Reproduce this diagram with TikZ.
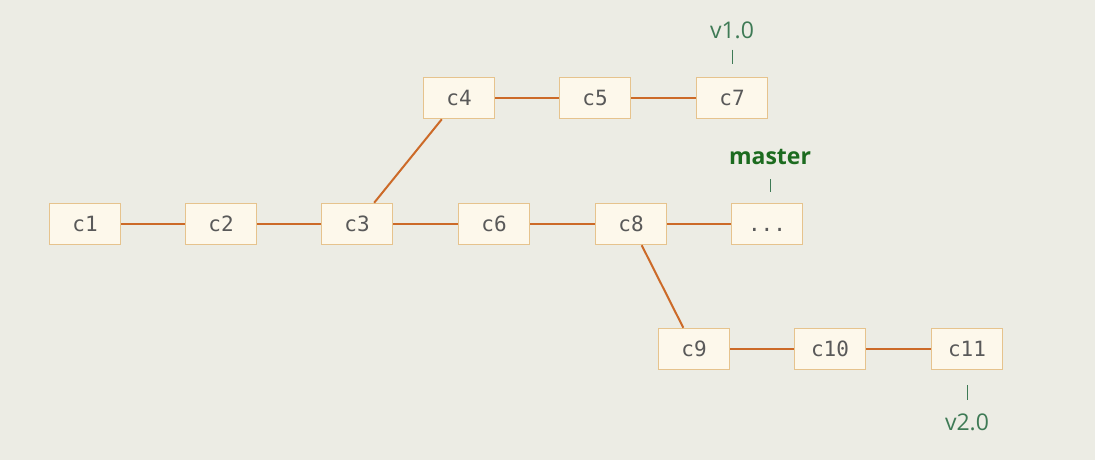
\documentclass[tikz,border=0pt]{standalone}
\usepackage{fontspec}
\setmainfont{Open Sans}
\setmonofont{DejaVu Sans Mono}
\usepackage{tikz}

\definecolor{bgcol}{HTML}{ECECE4}
\definecolor{boxfill}{HTML}{FDF8EB}
\definecolor{boxline}{HTML}{E6C38D}
\definecolor{edgecol}{HTML}{CC6A28}
\definecolor{txtcol}{HTML}{595959}
\definecolor{tagcol}{HTML}{3E7A55}
\definecolor{headcol}{HTML}{1C6B1F}

\begin{document}
\begin{tikzpicture}[x=1pt,y=1pt,
    commit/.style={draw=boxline,line width=1.5pt,fill=boxfill,minimum width=71pt,
      minimum height=41pt,inner sep=0pt,text=txtcol,text height=15pt,text depth=0pt,
      font=\ttfamily\fontsize{21}{24}\selectfont},
    link/.style={draw=edgecol,line width=2pt},
    tag/.style={inner sep=0pt,text=tagcol,font=\fontsize{23}{26}\selectfont},
    head/.style={inner sep=0pt,text=headcol,font=\bfseries\fontsize{23}{26}\selectfont},
    tick/.style={draw=tagcol,line width=1pt}]
  \fill[bgcol] (0,0) rectangle (1095,-460);

  % main line
  \node[commit] (c1) at (85,-224) {c1};
  \node[commit] (c2) at (221,-224) {c2};
  \node[commit] (c3) at (357,-224) {c3};
  \node[commit] (c6) at (494,-224) {c6};
  \node[commit] (c8) at (631,-224) {c8};
  \node[commit] (cx) at (767,-224) {...};

  % upper branch
  \node[commit] (c4) at (459,-98) {c4};
  \node[commit] (c5) at (595,-98) {c5};
  \node[commit] (c7) at (732,-98) {c7};

  % lower branch
  \node[commit] (c9) at (694,-349) {c9};
  \node[commit] (c10) at (830,-349) {c10};
  \node[commit] (c11) at (967,-349) {c11};

  \path[link] (c1) -- (c2);
  \path[link] (c2) -- (c3);
  \path[link] (c3) -- (c6);
  \path[link] (c6) -- (c8);
  \path[link] (c8) -- (cx);

  \path[link] (c3) -- (c4);
  \path[link] (c4) -- (c5);
  \path[link] (c5) -- (c7);

  \path[link] (c8) -- (c9);
  \path[link] (c9) -- (c10);
  \path[link] (c10) -- (c11);

  % tags
  \node[tag] (v10) at (732,-30) {v1.0};
  \node[head] (master) at (770,-157) {master};
  \node[tag] (v20) at (967,-422) {v2.0};

  \path[tick,shorten <=11pt,shorten >=13pt] (v10.south) -- (c7.north);
  \path[tick,shorten <=14pt,shorten >=11pt] (master.south) -- (master.south |- cx.north);
  \path[tick,shorten <=15pt,shorten >=13pt] (c11.south) -- (v20.north);
\end{tikzpicture}
\end{document}
